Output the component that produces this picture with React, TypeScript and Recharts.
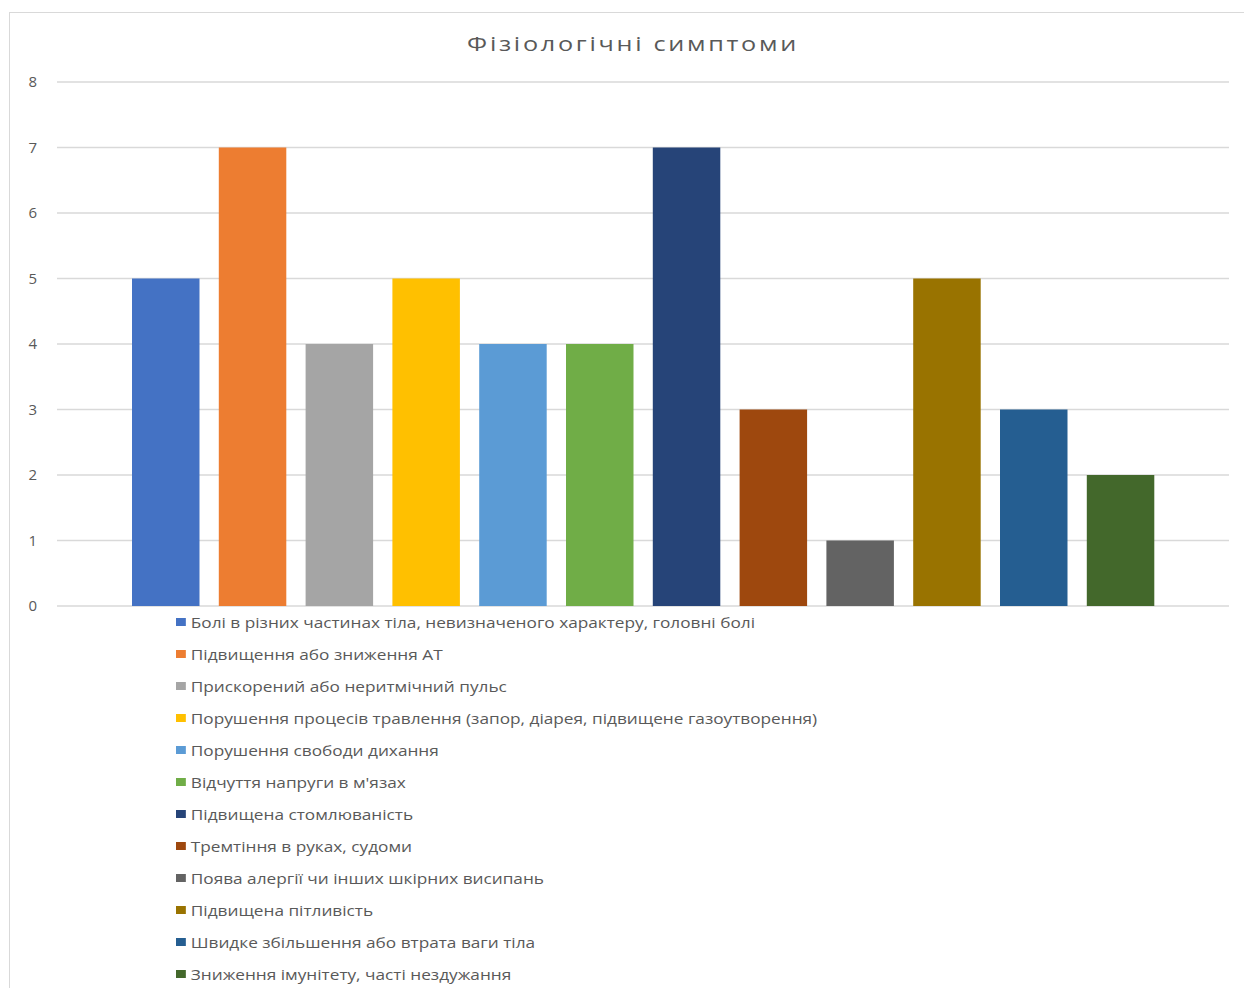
import { BarChart, Bar, XAxis, YAxis, CartesianGrid, Legend } from "recharts";

const symptoms = [
  "Болі в різних частинах тіла, невизначеного характеру, головні болі",
  "Підвищення або зниження АТ",
  "Прискорений або неритмічний пульс",
  "Порушення процесів травлення (запор, діарея, підвищене газоутворення)",
  "Порушення свободи дихання",
  "Відчуття напруги в м'язах",
  "Підвищена стомлюваність",
  "Тремтіння в руках, судоми",
  "Поява алергії чи інших шкірних висипань",
  "Підвищена пітливість",
  "Швидке збільшення або втрата ваги тіла",
  "Зниження імунітету, часті нездужання",
];

const counts = [5, 7, 4, 5, 4, 4, 7, 3, 1, 5, 3, 2];

const colors = [
  "#4472C4",
  "#ED7D31",
  "#A5A5A5",
  "#FFC000",
  "#5B9BD5",
  "#70AD47",
  "#264478",
  "#9E480E",
  "#636363",
  "#997300",
  "#255E91",
  "#43682B",
];

const yTicks = [0, 1, 2, 3, 4, 5, 6, 7, 8];

// one category, each symptom is its own series (like the spreadsheet chart)
const row: Record<string, string | number> = { group: "Фізіологічні симптоми" };
symptoms.forEach((s, i) => {
  row[`s${i}`] = counts[i];
});
const data = [row];

const FONT = "'Open Sans', 'Noto Sans', sans-serif";
const TEXT = "#595959";
const STRETCH = 1.23;

const LegendList = () => (
  <div
    style={{
      fontFamily: FONT,
      fontSize: 14,
      color: TEXT,
      transform: `scaleX(${STRETCH})`,
      transformOrigin: "0 0",
    }}
  >
    {symptoms.map((s, i) => (
      <div
        key={s}
        style={{ display: "flex", alignItems: "center", height: 32, whiteSpace: "nowrap" }}
      >
        <span
          style={{
            display: "inline-block",
            width: 8,
            height: 8,
            background: colors[i],
            marginRight: 4,
          }}
        />
        {s}
      </div>
    ))}
  </div>
);

export default function App() {
  return (
    <div style={{ position: "relative", width: 1244, height: 988, overflow: "hidden" }}>
      <style>{`body { margin: 0; overflow: hidden; background: #fff; }`}</style>
      <div
        style={{
          position: "absolute",
          left: 9,
          top: 12,
          width: 1260,
          height: 1000,
          border: "1px solid #d9d9d9",
          boxSizing: "border-box",
        }}
      />
      <div
        style={{
          position: "absolute",
          left: 0,
          width: 1266,
          top: 29,
          textAlign: "center",
          fontFamily: FONT,
          fontSize: 20.5,
          letterSpacing: 2.2,
          color: TEXT,
          transform: `scaleX(${STRETCH})`,
          transformOrigin: "633px 0",
        }}
      >
        Фізіологічні симптоми
      </div>
      <div style={{ position: "absolute", left: 0, top: 0 }}>
        <BarChart
          width={1244}
          height={988}
          data={data}
          margin={{ top: 82, right: 15, bottom: 382, left: 0 }}
          barGap={19.3}
        >
          <CartesianGrid vertical={false} stroke="#d9d9d9" strokeWidth={1.5} />
          <XAxis dataKey="group" hide />
          <YAxis
            width={57}
            domain={[0, 8]}
            ticks={yTicks}
            axisLine={false}
            tickLine={false}
            tickSize={0}
            tickMargin={20}
            tick={{ fill: TEXT, fontSize: 15, fontFamily: FONT }}
          />
          {symptoms.map((s, i) => (
            <Bar
              key={s}
              dataKey={`s${i}`}
              name={s}
              fill={colors[i]}
              barSize={67.5}
              isAnimationActive={false}
            />
          ))}
          <Legend
            layout="vertical"
            verticalAlign="middle"
            align="center"
            content={() => <LegendList />}
            wrapperStyle={{ position: "absolute", left: 176, top: 606, width: "auto" }}
          />
        </BarChart>
      </div>
    </div>
  );
}
